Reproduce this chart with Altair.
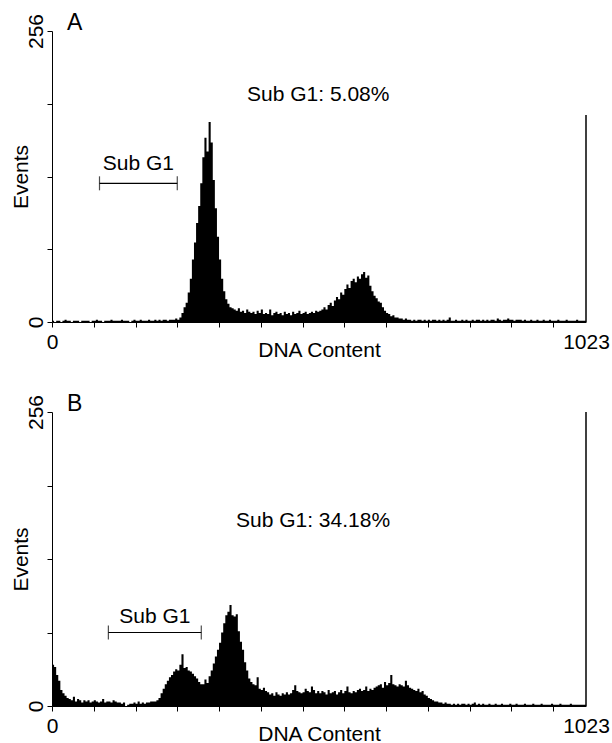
import altair as alt
import pandas as pd

# ---------------- data (4-channel bins, channel 0..1023) ----------------
BIN = 4
MAX_CH = 1023

counts_a = [
    1, 0, 1, 1, 0, 1, 2, 1, 1, 0, 1, 1, 1, 0, 1, 1,
    1, 1, 0, 1, 1, 2, 1, 1, 0, 1, 1, 1, 2, 1, 1, 1,
    1, 2, 1, 1, 1, 0, 1, 2, 1, 1, 2, 1, 1, 1, 2, 1,
    1, 2, 1, 2, 1, 2, 2, 1, 2, 2, 2, 3, 2, 4, 8, 13,
    17, 26, 38, 55, 70, 87, 102, 122, 145, 162, 150, 176, 158, 125, 100, 75,
    55, 38, 27, 20, 16, 13, 12, 11, 10, 12, 9, 10, 8, 11, 9, 8,
    9, 7, 10, 8, 11, 7, 8, 7, 11, 6, 8, 9, 7, 8, 6, 9,
    7, 8, 6, 9, 7, 8, 10, 7, 8, 9, 7, 8, 9, 8, 10, 9,
    10, 11, 13, 11, 15, 17, 14, 19, 22, 20, 26, 24, 29, 33, 30, 36,
    38, 35, 40, 38, 42, 44, 39, 41, 32, 27, 23, 21, 18, 17, 13, 10,
    8, 7, 5, 6, 4, 4, 3, 3, 2, 3, 2, 2, 1, 2, 1, 2,
    2, 1, 2, 1, 2, 1, 2, 2, 1, 2, 1, 2, 1, 2, 4, 1,
    1, 2, 1, 1, 2, 1, 2, 1, 1, 2, 1, 2, 2, 1, 2, 1,
    2, 1, 2, 2, 1, 3, 2, 1, 2, 2, 3, 2, 2, 1, 2, 2,
    2, 1, 2, 1, 1, 2, 1, 1, 2, 1, 1, 2, 1, 1, 2, 1,
    1, 1, 2, 1, 1, 1, 2, 1, 1, 1, 1, 2, 1, 1, 1, 1,
]

counts_b = [
    36, 34, 27, 22, 14, 11, 9, 7, 6, 5, 8, 4, 6, 5, 3, 5,
    4, 5, 3, 4, 5, 4, 3, 4, 6, 3, 4, 4, 3, 5, 4, 3,
    3, 2, 3, 0, 1, 2, 2, 3, 2, 4, 2, 3, 2, 3, 3, 4,
    4, 4, 5, 7, 11, 15, 19, 22, 25, 27, 30, 32, 31, 36, 45, 33,
    34, 31, 30, 28, 26, 24, 21, 19, 19, 23, 20, 26, 31, 37, 43, 49,
    55, 64, 72, 79, 82, 88, 79, 78, 80, 65, 56, 49, 38, 31, 24, 21,
    19, 18, 25, 15, 14, 16, 13, 12, 10, 11, 9, 12, 10, 9, 11, 10,
    12, 10, 11, 14, 18, 13, 12, 11, 12, 15, 13, 12, 17, 14, 11, 13,
    11, 13, 12, 10, 14, 11, 12, 13, 10, 12, 14, 11, 13, 17, 12, 11,
    13, 12, 14, 15, 13, 14, 17, 13, 15, 14, 16, 17, 18, 19, 16, 21,
    18, 20, 27, 19, 18, 17, 19, 18, 17, 22, 18, 16, 15, 14, 13, 15,
    12, 13, 10, 9, 7, 6, 5, 4, 4, 3, 3, 2, 3, 2, 2, 1,
    2, 1, 2, 1, 2, 2, 1, 2, 1, 2, 3, 1, 2, 1, 2, 1,
    1, 2, 1, 1, 2, 1, 1, 2, 1, 1, 1, 2, 1, 1, 2, 1,
    1, 1, 2, 1, 1, 1, 2, 1, 1, 1, 2, 1, 1, 1, 1, 2,
    1, 1, 1, 2, 1, 1, 1, 1, 2, 1, 1, 1, 1, 1, 1, 1,
]

# counts piled up in the last channel (1023)
spike_a = 182
spike_b = 256

# Sub G1 gate: channel range and drawn level (events)
gate_a = [91, 240]
gate_level_a = 122
gate_b = [108, 286]
gate_level_b = 64

gate_label = "Sub G1"
pct_text_a = "Sub G1: 5.08%"
pct_pos_a = [510, 194]
pct_text_b = "Sub G1: 34.18%"
pct_pos_b = [500, 156]

panel_letters = ["A", "B"]

x_tick_values = list(range(0, 1001, 40)) + [1023]
y_tick_values = [0, 64, 128, 192, 256]

FONT = "Liberation Sans"
FS = 21
PLOT_W = 534


def hist_frame(counts):
    ch = [i * BIN for i in range(len(counts))] + [MAX_CH]
    cnt = list(counts) + [counts[-1]]
    return pd.DataFrame({"ch": ch, "count": cnt})


def panel(counts, spike, gate, gate_level, gate_dy, pct_text, pct_pos, letter, height):
    x_scale = alt.Scale(domain=[0, MAX_CH], nice=False, zero=False)
    y_scale = alt.Scale(domain=[0, 256], nice=False)

    x_axis = alt.Axis(
        values=x_tick_values,
        labelExpr="datum.value == 0 || datum.value == 1023 ? datum.label : ''",
        tickOpacity={"condition": {"test": "datum.value == 1023", "value": 0}, "value": 1},
        title="DNA Content",
        titleY=34,
        titleBaseline="alphabetic",
        labelFlush=False,
        labelOverlap=False,
        grid=False,
        tickSize=5,
        labelPadding=4,
        format="d",
    )
    y_axis = alt.Axis(
        values=y_tick_values,
        labelExpr="datum.value == 0 || datum.value == 256 ? datum.label : ''",
        labelAngle=-90,
        labelAlign="center",
        labelBaseline="bottom",
        labelPadding=1,
        labelOverlap=False,
        tickSize=5,
        grid=False,
        title="Events",
        titleAngle=-90,
        titleX=-24.5,
        titleY=height / 2,
        titleAlign="center",
        titleBaseline="alphabetic",
        format="d",
    )

    hist = alt.Chart(hist_frame(counts)).mark_area(
        interpolate="step-after", color="black"
    ).encode(
        x=alt.X("ch:Q", scale=x_scale, axis=x_axis),
        y=alt.Y("count:Q", scale=y_scale, axis=y_axis),
    )

    spike_df = pd.DataFrame({"ch": [MAX_CH], "count": [spike], "base": [0]})
    spike_rule = alt.Chart(spike_df).mark_rule(color="black", strokeWidth=1.5).encode(
        x="ch:Q", y="count:Q", y2="base:Q"
    )

    gate_df = pd.DataFrame({"x1": [gate[0]], "x2": [gate[1]], "lvl": [gate_level],
                            "mid": [(gate[0] + gate[1]) / 2], "t": [gate_label]})
    gate_line = alt.Chart(gate_df).mark_rule(color="black", strokeWidth=1.2).encode(
        x="x1:Q", x2="x2:Q", y="lvl:Q"
    )
    caps_df = pd.DataFrame({"ch": gate, "lvl": [gate_level, gate_level]})
    caps = alt.Chart(caps_df).mark_tick(
        orient="vertical", size=14, thickness=1.2, color="black"
    ).encode(x="ch:Q", y="lvl:Q")
    gate_text = alt.Chart(gate_df).mark_text(
        fontSize=FS, align="center", baseline="alphabetic", dy=-gate_dy, color="black", font=FONT
    ).encode(x="mid:Q", y="lvl:Q", text="t:N")

    pct_df = pd.DataFrame({"ch": [pct_pos[0]], "count": [pct_pos[1]], "t": [pct_text]})
    pct = alt.Chart(pct_df).mark_text(
        fontSize=FS, align="center", baseline="alphabetic", color="black", font=FONT
    ).encode(x="ch:Q", y="count:Q", text="t:N")

    letter_df = pd.DataFrame({"t": [letter]})
    letter_mark = alt.Chart(letter_df).mark_text(
        fontSize=23, align="left", baseline="alphabetic", color="black", font=FONT
    ).encode(x=alt.value(15), y=alt.value(-1), text="t:N")

    return alt.layer(hist, spike_rule, gate_line, caps, gate_text, pct, letter_mark).properties(
        width=PLOT_W, height=height
    )


panel_a = panel(counts_a, spike_a, gate_a, gate_level_a, 13, pct_text_a, pct_pos_a, panel_letters[0], 291)
panel_b = panel(counts_b, spike_b, gate_b, gate_level_b, 10, pct_text_b, pct_pos_b, panel_letters[1], 294)

chart = alt.vconcat(panel_a, panel_b, spacing=33).properties(
    padding={"top": 12, "left": 10, "right": 0, "bottom": 8},
    background="white",
).configure(font=FONT).configure_view(strokeWidth=0).configure_axis(
    domainColor="black",
    domainWidth=1,
    tickColor="black",
    tickWidth=1,
    labelColor="black",
    titleColor="black",
    labelFont=FONT,
    titleFont=FONT,
    labelFontSize=FS,
    titleFontSize=FS,
    titleFontWeight="normal",
)

chart.save("out.html", embed_options={"renderer": "svg", "actions": False})
